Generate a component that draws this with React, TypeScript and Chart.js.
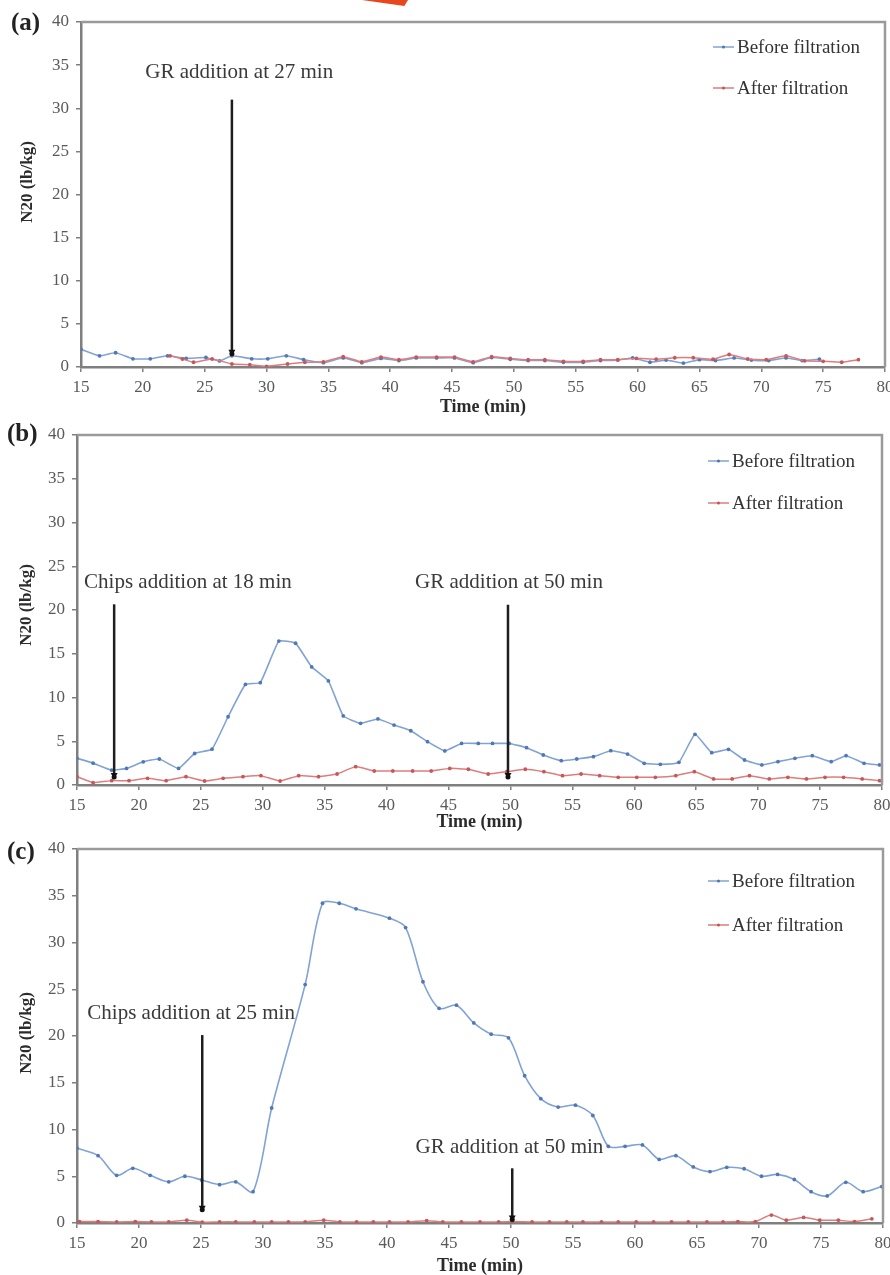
import React, { useEffect, useRef } from "react";
import { Chart, registerables } from "chart.js";

Chart.register(...registerables);

const SERIF = '"Liberation Serif", "Times New Roman", Times, serif';

const BLUE_LINE = "#80a3d6";
const BLUE_MARK = "#5278b3";
const RED_LINE = "#de7d7d";
const RED_MARK = "#c4585a";
const AXIS_GREY = "#7f7f7f";

const LEGEND_LABELS = ["Before filtration", "After filtration"];
const X_TITLE = "Time (min)";
const Y_TITLE = "N20 (lb/kg)";

// (a) GR added at 27 min
const timeBeforeA = [15.0, 16.5, 17.8, 19.2, 20.6, 22.0, 23.5, 25.1, 26.2, 27.2, 28.8, 30.1, 31.6, 33.0, 34.6, 36.2, 37.7, 39.25, 40.7, 42.1, 43.75, 45.2, 46.7, 48.2, 49.7, 51.15, 52.5, 54.0, 55.6, 57.0, 58.4, 59.6, 61.0, 62.3, 63.7, 65.0, 66.3, 67.8, 69.2, 70.6, 72.0, 73.3, 74.7];
const n2oBeforeA = [2.05, 1.3, 1.65, 0.95, 0.95, 1.3, 1.0, 1.1, 0.7, 1.3, 0.95, 0.95, 1.3, 0.85, 0.5, 1.05, 0.5, 1.0, 0.75, 1.05, 1.05, 1.05, 0.5, 1.1, 0.9, 0.75, 0.75, 0.55, 0.55, 0.75, 0.8, 1.05, 0.55, 0.8, 0.45, 0.85, 0.75, 1.05, 0.8, 0.75, 1.05, 0.75, 0.9];
const timeAfterA = [22.2, 23.2, 24.1, 25.6, 27.2, 28.65, 30.0, 31.7, 33.1, 34.6, 36.2, 37.7, 39.25, 40.7, 42.1, 43.75, 45.2, 46.7, 48.2, 49.7, 51.15, 52.5, 54.0, 55.6, 57.0, 58.4, 59.9, 61.5, 63.0, 64.5, 66.1, 67.4, 68.9, 70.4, 72.0, 73.5, 75.0, 76.5, 77.85];
const n2oAfterA = [1.3, 0.93, 0.55, 0.93, 0.35, 0.27, 0.08, 0.35, 0.55, 0.6, 1.2, 0.6, 1.15, 0.85, 1.15, 1.15, 1.15, 0.6, 1.2, 1.0, 0.85, 0.85, 0.66, 0.66, 0.85, 0.85, 1.0, 0.9, 1.07, 1.07, 0.9, 1.45, 0.93, 0.85, 1.3, 0.72, 0.66, 0.55, 0.85];

// (b) chips at 18 min, GR at 50 min
const timeBeforeB = [15.0, 16.3, 17.8, 19.0, 20.35, 21.65, 23.2, 24.5, 25.9, 27.2, 28.6, 29.8, 31.3, 32.65, 33.95, 35.3, 36.5, 37.9, 39.3, 40.6, 41.95, 43.3, 44.7, 46.05, 47.4, 48.55, 49.9, 51.3, 52.65, 54.1, 55.35, 56.7, 58.1, 59.45, 60.8, 62.1, 63.6, 64.9, 66.25, 67.6, 68.9, 70.3, 71.6, 72.97, 74.37, 75.9, 77.1, 78.55, 79.8];
const n2oBeforeB = [3.05, 2.5, 1.7, 1.9, 2.65, 2.97, 1.9, 3.6, 4.1, 7.8, 11.5, 11.7, 16.45, 16.2, 13.5, 11.9, 7.9, 7.05, 7.55, 6.85, 6.2, 4.95, 3.9, 4.75, 4.75, 4.75, 4.75, 4.27, 3.43, 2.78, 2.97, 3.24, 3.92, 3.54, 2.48, 2.36, 2.59, 5.79, 3.7, 4.08, 2.86, 2.29, 2.67, 3.05, 3.35, 2.67, 3.35, 2.48, 2.29];
const timeAfterB = [15.0, 16.3, 17.8, 19.2, 20.7, 22.2, 23.8, 25.3, 26.8, 28.4, 29.85, 31.4, 32.9, 34.5, 36.0, 37.5, 39.0, 40.5, 42.1, 43.6, 45.1, 46.6, 48.2, 49.7, 51.2, 52.7, 54.2, 55.7, 57.2, 58.7, 60.2, 61.7, 63.35, 64.85, 66.4, 67.9, 69.3, 70.9, 72.4, 73.9, 75.4, 76.9, 78.4, 79.8];
const n2oAfterB = [0.95, 0.27, 0.5, 0.5, 0.76, 0.5, 0.95, 0.46, 0.76, 0.95, 1.07, 0.46, 1.07, 0.95, 1.26, 2.1, 1.6, 1.6, 1.6, 1.6, 1.9, 1.8, 1.26, 1.52, 1.8, 1.52, 1.07, 1.26, 1.07, 0.88, 0.88, 0.88, 1.07, 1.52, 0.69, 0.69, 1.07, 0.69, 0.88, 0.69, 0.88, 0.88, 0.69, 0.5];

// (c) chips at 25 min, GR at 50 min
const timeBeforeC = [15.0, 16.7, 18.2, 19.5, 20.9, 22.4, 23.7, 25.05, 26.5, 27.8, 29.2, 30.7, 33.4, 34.8, 36.15, 37.5, 40.2, 41.5, 42.9, 44.2, 45.6, 47.0, 48.4, 49.8, 51.1, 52.4, 53.8, 55.2, 56.6, 57.85, 59.2, 60.6, 61.95, 63.3, 64.7, 66.05, 67.4, 68.8, 70.2, 71.5, 72.85, 74.2, 75.5, 77.0, 78.4, 79.9];
const n2oBeforeC = [8.0, 7.2, 5.1, 5.85, 5.1, 4.4, 5.0, 4.6, 4.1, 4.4, 3.35, 12.3, 25.5, 34.2, 34.2, 33.6, 32.6, 31.6, 25.8, 22.96, 23.3, 21.4, 20.2, 19.8, 15.75, 13.3, 12.4, 12.6, 11.5, 8.2, 8.2, 8.35, 6.8, 7.2, 6.0, 5.5, 5.95, 5.8, 5.0, 5.2, 4.65, 3.35, 2.9, 4.35, 3.35, 3.9];
const timeAfterC = [15.2, 16.7, 18.2, 19.7, 21.0, 22.4, 23.85, 25.1, 26.5, 27.8, 29.3, 30.7, 32.05, 33.4, 34.9, 36.2, 37.55, 38.9, 40.2, 41.7, 43.2, 44.5, 46.0, 47.5, 49.0, 50.1, 51.7, 53.1, 54.5, 55.8, 57.3, 58.65, 60.1, 61.5, 62.95, 64.3, 65.8, 67.1, 68.3, 69.7, 71.0, 72.2, 73.6, 74.9, 76.4, 77.7, 79.1];
const n2oAfterC = [0.15, 0.15, 0.12, 0.15, 0.12, 0.12, 0.3, 0.1, 0.12, 0.12, 0.12, 0.12, 0.12, 0.12, 0.3, 0.12, 0.12, 0.12, 0.12, 0.12, 0.25, 0.12, 0.12, 0.12, 0.12, 0.15, 0.12, 0.12, 0.12, 0.12, 0.12, 0.12, 0.12, 0.12, 0.12, 0.12, 0.12, 0.12, 0.15, 0.15, 0.85, 0.3, 0.6, 0.3, 0.3, 0.15, 0.45];

type Note = {
  text: string;
  textX: number; // minutes, left edge of the text
  textY: number; // N2O value at the text's middle
  arrowX: number;
  arrowTop: number;
  arrowBottom: number;
};

const notesA: Note[] = [
  { text: "GR addition at 27 min", textX: 20.2, textY: 34.1, arrowX: 27.2, arrowTop: 31.0, arrowBottom: 1.3 },
];
const notesB: Note[] = [
  { text: "Chips addition at 18 min", textX: 15.57, textY: 23.1, arrowX: 18.0, arrowTop: 20.65, arrowBottom: 0.7 },
  { text: "GR addition at 50 min", textX: 42.3, textY: 23.1, arrowX: 49.8, arrowTop: 20.6, arrowBottom: 0.7 },
];
const notesC: Note[] = [
  { text: "Chips addition at 25 min", textX: 15.83, textY: 22.4, arrowX: 25.1, arrowTop: 20.1, arrowBottom: 1.2 },
  { text: "GR addition at 50 min", textX: 42.3, textY: 8.05, arrowX: 50.1, arrowTop: 5.85, arrowBottom: 0.15 },
];

type PanelSpec = {
  label: string;
  canvasTop: number;
  canvasHeight: number;
  area: { left: number; right: number; top: number; bottom: number };
  before: [number[], number[]];
  after: [number[], number[]];
  notes: Note[];
  tension: number;
  legendX: number;
  legendRows: [number, number];
  labelPos: [number, number];
  yTitlePos: [number, number];
  xTitleY: number;
};

const panels: PanelSpec[] = [
  {
    label: "(a)",
    canvasTop: 0,
    canvasHeight: 416,
    area: { left: 81, right: 885, top: 22, bottom: 367 },
    before: [timeBeforeA, n2oBeforeA],
    after: [timeAfterA, n2oAfterA],
    notes: notesA,
    tension: 0.15,
    legendX: 713,
    legendRows: [47, 88],
    labelPos: [11, 24],
    yTitlePos: [28, 182],
    xTitleY: 407,
  },
  {
    label: "(b)",
    canvasTop: 416,
    canvasHeight: 416,
    area: { left: 77, right: 882, top: 19, bottom: 369 },
    before: [timeBeforeB, n2oBeforeB],
    after: [timeAfterB, n2oAfterB],
    notes: notesB,
    tension: 0.12,
    legendX: 708,
    legendRows: [45, 87],
    labelPos: [7, 19],
    yTitlePos: [27, 189],
    xTitleY: 406,
  },
  {
    label: "(c)",
    canvasTop: 832,
    canvasHeight: 443,
    area: { left: 77, right: 883, top: 17, bottom: 391 },
    before: [timeBeforeC, n2oBeforeC],
    after: [timeAfterC, n2oAfterC],
    notes: notesC,
    tension: 0.3,
    legendX: 708,
    legendRows: [49, 93],
    labelPos: [7, 21],
    yTitlePos: [27, 201],
    xTitleY: 434,
  },
];

const toPoints = (t: number[], v: number[]) => t.map((x, i) => ({ x, y: v[i] }));

function decorPlugin(spec: PanelSpec) {
  return {
    id: "panelDecor",
    afterDatasetsDraw(chart: any) {
      const { ctx } = chart;
      const xs = chart.scales.x;
      const ys = chart.scales.y;
      ctx.save();
      for (const n of spec.notes) {
        const ax = xs.getPixelForValue(n.arrowX);
        const top = ys.getPixelForValue(n.arrowTop);
        const bottom = ys.getPixelForValue(n.arrowBottom);
        ctx.strokeStyle = "#1e1e1e";
        ctx.lineWidth = 2.5;
        ctx.beginPath();
        ctx.moveTo(ax, top);
        ctx.lineTo(ax, bottom - 4);
        ctx.stroke();
        ctx.fillStyle = "#111";
        ctx.beginPath();
        ctx.moveTo(ax - 3.5, bottom - 6);
        ctx.lineTo(ax + 3.5, bottom - 6);
        ctx.lineTo(ax, bottom);
        ctx.closePath();
        ctx.fill();
        ctx.beginPath();
        ctx.arc(ax, bottom - 2, 2.5, 0, Math.PI * 2);
        ctx.fill();

        ctx.fillStyle = "#3a3a3a";
        ctx.font = `21px ${SERIF}`;
        ctx.textAlign = "left";
        ctx.textBaseline = "middle";
        ctx.fillText(n.text, xs.getPixelForValue(n.textX), ys.getPixelForValue(n.textY));
      }
      ctx.restore();
    },
    afterDraw(chart: any) {
      const { ctx, chartArea } = chart;
      ctx.save();
      // top and right edges of the plot frame
      ctx.strokeStyle = "#9a9a9a";
      ctx.lineWidth = 2.5;
      ctx.beginPath();
      ctx.moveTo(chartArea.left, chartArea.top);
      ctx.lineTo(chartArea.right, chartArea.top);
      ctx.lineTo(chartArea.right, chartArea.bottom);
      ctx.stroke();

      // legend
      const colors = [
        [BLUE_LINE, BLUE_MARK],
        [RED_LINE, RED_MARK],
      ];
      ctx.font = `19px ${SERIF}`;
      ctx.textAlign = "left";
      ctx.textBaseline = "middle";
      LEGEND_LABELS.forEach((lab, i) => {
        const y = spec.legendRows[i];
        ctx.strokeStyle = colors[i][0];
        ctx.lineWidth = 1.5;
        ctx.beginPath();
        ctx.moveTo(spec.legendX, y);
        ctx.lineTo(spec.legendX + 21, y);
        ctx.stroke();
        ctx.fillStyle = colors[i][1];
        ctx.beginPath();
        ctx.arc(spec.legendX + 10.5, y, 1.6, 0, Math.PI * 2);
        ctx.fill();
        ctx.fillStyle = "#333";
        ctx.fillText(lab, spec.legendX + 24, y + 1);
      });

      // panel letter
      ctx.fillStyle = "#222";
      ctx.font = `bold 25px ${SERIF}`;
      ctx.textBaseline = "middle";
      ctx.fillText(spec.label, spec.labelPos[0], spec.labelPos[1]);

      // axis titles
      ctx.font = `bold 18px ${SERIF}`;
      ctx.textAlign = "center";
      ctx.fillStyle = "#2b2b2b";
      ctx.fillText(X_TITLE, (chartArea.left + chartArea.right) / 2, spec.xTitleY);
      ctx.translate(spec.yTitlePos[0], spec.yTitlePos[1]);
      ctx.rotate(-Math.PI / 2);
      ctx.font = `bold 17px ${SERIF}`;
      ctx.fillText(Y_TITLE, 0, 0);
      ctx.restore();
    },
  };
}

function Panel({ spec }: { spec: PanelSpec }) {
  const ref = useRef<HTMLCanvasElement>(null);
  useEffect(() => {
    const canvas = ref.current;
    if (!canvas) return;
    const { area, canvasHeight } = spec;
    const tickFont = { family: SERIF, size: 17 };
    const chart = new Chart(canvas, {
      type: "line",
      data: {
        datasets: [
          {
            label: LEGEND_LABELS[1],
            data: toPoints(spec.after[0], spec.after[1]),
            borderColor: RED_LINE,
            backgroundColor: RED_MARK,
            pointBackgroundColor: RED_MARK,
            pointBorderColor: RED_MARK,
            pointBorderWidth: 0,
            pointRadius: 1.9,
            borderWidth: 1.5,
            tension: spec.tension,
            order: 0,
          },
          {
            label: LEGEND_LABELS[0],
            data: toPoints(spec.before[0], spec.before[1]),
            borderColor: BLUE_LINE,
            backgroundColor: BLUE_MARK,
            pointBackgroundColor: BLUE_MARK,
            pointBorderColor: BLUE_MARK,
            pointBorderWidth: 0,
            pointRadius: 1.9,
            borderWidth: 1.6,
            tension: spec.tension,
            order: 1,
          },
        ],
      },
      options: {
        responsive: false,
        animation: false,
        devicePixelRatio: 1,
        events: [],
        layout: { padding: { left: 0, right: 890 - area.right, top: area.top, bottom: 0 } },
        plugins: { legend: { display: false }, tooltip: { enabled: false } },
        scales: {
          x: {
            type: "linear",
            min: 15,
            max: 80,
            ticks: { stepSize: 5, font: tickFont, color: "#5a5a5a", padding: 5, maxRotation: 0, autoSkip: false },
            grid: { drawOnChartArea: false, drawTicks: true, tickLength: 5, color: AXIS_GREY, lineWidth: 1.5 },
            border: { color: AXIS_GREY, width: 2.5 },
            afterFit(s: any) {
              s.height = canvasHeight - area.bottom;
              s.paddingLeft = 0;
              s.paddingRight = 0;
            },
          },
          y: {
            type: "linear",
            min: 0,
            max: 40,
            ticks: { stepSize: 5, font: tickFont, color: "#5a5a5a", padding: 7 },
            grid: { drawOnChartArea: false, drawTicks: true, tickLength: 5, color: AXIS_GREY, lineWidth: 1.5 },
            border: { color: AXIS_GREY, width: 2.5 },
            afterFit(s: any) {
              s.width = area.left;
              s.paddingTop = 0;
              s.paddingBottom = 0;
            },
          },
        },
      },
      plugins: [decorPlugin(spec)],
    } as any);
    return () => chart.destroy();
  }, [spec]);
  return (
    <canvas
      ref={ref}
      width={890}
      height={spec.canvasHeight}
      style={{ position: "absolute", left: 0, top: spec.canvasTop, width: 890, height: spec.canvasHeight }}
    />
  );
}

export default function App() {
  return (
    <div style={{ position: "absolute", left: 0, top: 0, width: 890, height: 1275, overflow: "hidden", background: "#fff" }}>
      {panels.map((p) => (
        <Panel key={p.label} spec={p} />
      ))}
      <div
        style={{
          position: "absolute",
          left: 362,
          top: 0,
          width: 46,
          height: 6,
          background: "#e8461e",
          clipPath: "polygon(0 0, 100% 0, 92% 100%)",
        }}
      />
    </div>
  );
}
